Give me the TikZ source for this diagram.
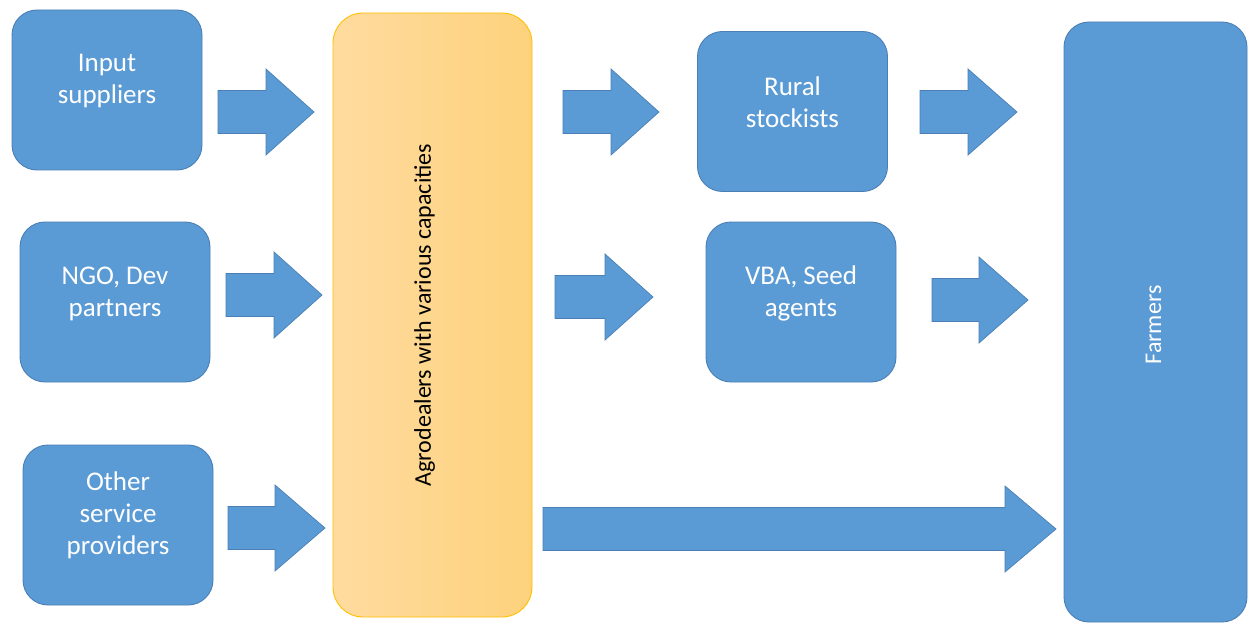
\documentclass[tikz,border=0pt]{standalone}
\usepackage{fontspec}
\setmainfont{Carlito}
\definecolor{boxblue}{HTML}{5B9BD5}
\definecolor{boxedge}{HTML}{4A7FB5}
\definecolor{goldleft}{HTML}{FFDB9F}
\definecolor{goldright}{HTML}{FDD27C}
\definecolor{goldedge}{HTML}{FFC000}
\tikzset{
  bluebox/.style={draw=boxedge, line width=0.9pt, fill=boxblue, rounded corners=25pt,
    minimum width=190pt, minimum height=160pt, inner sep=0pt},
  boxtext/.style={text=white, font=\fontsize{27}{32}\selectfont, align=center, inner sep=0pt},
  blockarrow/.style={draw=boxedge, line width=0.7pt, fill=boxblue},
}
% block arrow: left end, start of head, tip, centre line
\newcommand\blockarr[4]{%
  \draw[blockarrow] (#1,{#4-21.5}) -- (#2,{#4-21.5}) -- (#2,{#4-43}) -- (#3,#4)
    -- (#2,{#4+43}) -- (#2,{#4+21.5}) -- (#1,{#4+21.5}) -- cycle;}
\begin{document}
\begin{tikzpicture}[x=1pt, y=-1pt]
\useasboundingbox (0,0) rectangle (1248,623);
\fill[white] (0,0) rectangle (1248,623);

% sources
\node[bluebox] (inp) at (107,90) {};
\node[boxtext] (inpt) at ([yshift=9pt]inp.center) {Input\\suppliers};
\node[bluebox] (ngo) at (115,302) {};
\node[boxtext] (ngot) at ([yshift=8pt]ngo.center) {NGO, Dev\\partners};
\node[bluebox] (oth) at (118,525) {};
\node[boxtext] (otht) at ([yshift=10pt]oth.center) {Other\\service\\providers};

% agrodealers
\node[draw=goldedge, line width=0.9pt, left color=goldleft, right color=goldright,
  rounded corners=30pt, minimum width=199pt, minimum height=604pt, inner sep=0pt]
  (agro) at (432.5,315) {};
\node[rotate=90, font=\fontsize{24}{28}\selectfont, inner sep=0pt] (agrot)
  at ([xshift=-8pt]agro.center) {Agrodealers with various capacities};

% intermediaries
\node[bluebox] (rur) at (792.5,111.5) {};
\node[boxtext] (rurt) at ([yshift=9pt]rur.center) {Rural\\stockists};
\node[bluebox] (vba) at (801,302) {};
\node[boxtext] (vbat) at ([yshift=9pt]vba.center) {VBA, Seed\\agents};

% farmers
\node[draw=boxedge, line width=0.9pt, fill=boxblue, rounded corners=25pt,
  minimum width=183pt, minimum height=600pt, inner sep=0pt] (farm) at (1155.5,322) {};
\node[rotate=90, text=white, font=\fontsize{24}{28}\selectfont, inner sep=0pt] (farmt)
  at ([xshift=-2pt,yshift=-3pt]farm.center) {Farmers};

% flows
\blockarr{218}{266}{314}{112}
\blockarr{226}{274}{322}{295}
\blockarr{228}{275}{325}{528}
\blockarr{563}{611}{659}{112}
\blockarr{555}{605}{653}{297}
\blockarr{543}{1005}{1056}{529}
\blockarr{920}{968}{1017}{112}
\blockarr{932}{979}{1028}{300}
\end{tikzpicture}
\end{document}
